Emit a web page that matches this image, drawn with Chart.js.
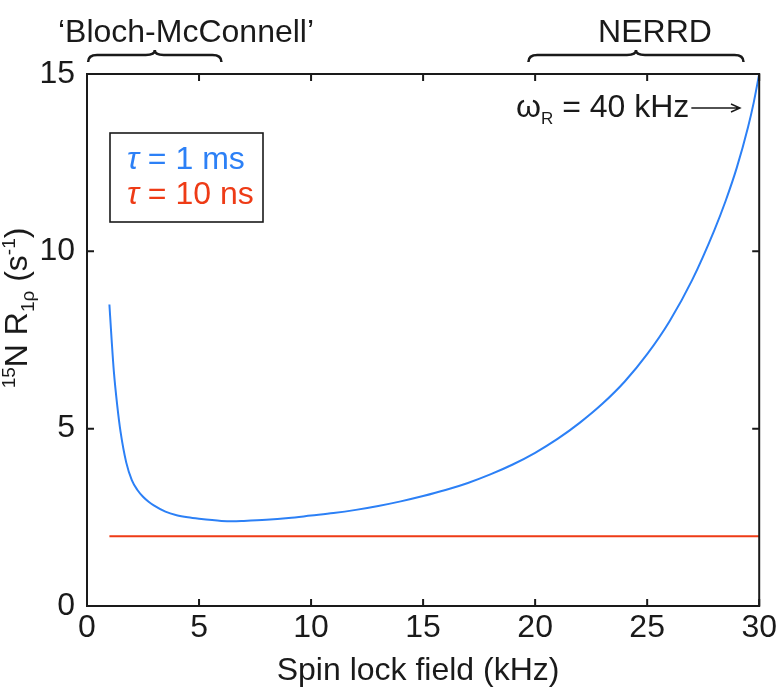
<!DOCTYPE html>
<html>
<head>
<meta charset="utf-8">
<script src="https://cdn.jsdelivr.net/npm/chart.js@4/dist/chart.umd.min.js"></script>
<style>
  html, body { margin: 0; padding: 0; background: #fff; }
  #wrap { width: 780px; height: 695px; }
</style>
</head>
<body>
<div id="wrap"><canvas id="r1rhoChart" width="780" height="695"></canvas></div>
<script>
// spin lock field (kHz) and R1rho (s^-1)
var fieldKHz = [1, 1.1, 1.2, 1.35, 1.5, 1.75, 2, 2.25, 2.5, 2.75, 3, 3.5, 4, 4.5, 5, 6, 6.5, 7, 8, 9, 10,
                11, 12, 13, 14, 15, 16, 17, 18, 19, 20, 21, 22, 23, 24, 25, 26, 27, 28, 28.5, 29, 29.5, 29.75, 30];
var r1rhoSlow = [8.5, 7.5, 6.6, 5.65, 4.9, 4.05, 3.55, 3.27, 3.08, 2.94, 2.83, 2.66, 2.56, 2.50, 2.46, 2.40, 2.39, 2.40, 2.43, 2.48, 2.55,
                 2.62, 2.71, 2.82, 2.95, 3.10, 3.27, 3.47, 3.71, 3.99, 4.32, 4.71, 5.17, 5.70, 6.33, 7.10, 8.03, 9.18, 10.6, 11.42, 12.36, 13.5, 14.18, 15.0];
var fastField = [1, 30];
var r1rhoFast = [1.97, 1.97];

var xTicks = [0, 5, 10, 15, 20, 25, 30];
var yTicks = [0, 5, 10, 15];

var blue = '#2c80f6';
var red = '#ee3b16';
var ink = '#1a1a1a';
var fontFamily = '"Liberation Sans", Arial, Helvetica, sans-serif';

function toPoints(xs, ys) {
    var pts = [];
    for (var i = 0; i < xs.length; i++) pts.push({ x: xs[i], y: ys[i] });
    return pts;
}

function drawBrace(ctx, x0, x1, yb, ym, yt) {
    var xm = (x0 + x1) / 2, r = 9;
    ctx.beginPath();
    ctx.moveTo(x0, yb);
    ctx.quadraticCurveTo(x0, ym, x0 + r, ym);
    ctx.lineTo(xm - r, ym);
    ctx.quadraticCurveTo(xm, ym, xm, yt);
    ctx.quadraticCurveTo(xm, ym, xm + r, ym);
    ctx.lineTo(x1 - r, ym);
    ctx.quadraticCurveTo(x1, ym, x1, yb);
    ctx.stroke();
}

// draws parts [text, size, dy, italic] one after another
function drawParts(ctx, parts, x, y, color) {
    ctx.fillStyle = color;
    ctx.textBaseline = 'alphabetic';
    ctx.textAlign = 'left';
    parts.forEach(function(p) {
        ctx.font = (p[3] ? 'italic ' : '') + p[1] + 'px ' + fontFamily;
        ctx.fillText(p[0], x, y + p[2]);
        x += ctx.measureText(p[0]).width;
    });
    return x;
}

function partsWidth(ctx, parts) {
    var w = 0;
    parts.forEach(function(p) {
        ctx.font = (p[3] ? 'italic ' : '') + p[1] + 'px ' + fontFamily;
        w += ctx.measureText(p[0]).width;
    });
    return w;
}

var framePlugin = {
    id: 'frame',
    afterDraw: function(chart) {
        var ctx = chart.ctx;
        var a = chart.chartArea;
        var xs = chart.scales.x, ys = chart.scales.y;
        ctx.save();

        // box with inward ticks on all four sides
        ctx.strokeStyle = ink;
        ctx.lineWidth = 2;
        ctx.strokeRect(a.left, a.top, a.right - a.left, a.bottom - a.top);
        ctx.beginPath();
        xTicks.forEach(function(v) {
            var px = xs.getPixelForValue(v);
            ctx.moveTo(px, a.bottom); ctx.lineTo(px, a.bottom - 7);
            ctx.moveTo(px, a.top); ctx.lineTo(px, a.top + 7);
        });
        yTicks.forEach(function(v) {
            var py = ys.getPixelForValue(v);
            ctx.moveTo(a.left, py); ctx.lineTo(a.left + 7, py);
            ctx.moveTo(a.right, py); ctx.lineTo(a.right - 7, py);
        });
        ctx.stroke();

        // x axis title
        ctx.fillStyle = ink;
        ctx.font = '32px ' + fontFamily;
        ctx.textAlign = 'center';
        ctx.textBaseline = 'alphabetic';
        ctx.fillText('Spin lock field (kHz)', (a.left + a.right) / 2 - 5, 680);

        // y axis title, rotated
        var yParts = [['15', 19, -12], ['N R', 32, 0], ['1\u03c1', 19, 7], [' (s', 32, 0], ['-1', 19, -12], [')', 32, 0]];
        ctx.save();
        ctx.translate(27, 308);
        ctx.rotate(-Math.PI / 2);
        drawParts(ctx, yParts, -partsWidth(ctx, yParts) / 2, 0, ink);
        ctx.restore();

        // regime braces and labels above the plot
        ctx.lineWidth = 2.5;
        ctx.strokeStyle = ink;
        drawBrace(ctx, xs.getPixelForValue(0.05), xs.getPixelForValue(6), 62, 55, 50);
        drawBrace(ctx, xs.getPixelForValue(19.7), xs.getPixelForValue(29.3), 62, 55, 50);
        ctx.fillStyle = ink;
        ctx.font = '32px ' + fontFamily;
        ctx.textAlign = 'center';
        ctx.fillText('\u2018Bloch-McConnell\u2019', 186, 42);
        ctx.fillText('NERRD', 655, 42);

        // spinning rate note with arrow
        var wParts = [['\u03c9', 32, 0], ['R', 17, 7], [' = 40 kHz', 32, 0]];
        var endX = drawParts(ctx, wParts, 516, 117, ink);
        ctx.strokeStyle = ink;
        ctx.lineWidth = 1.4;
        ctx.beginPath();
        ctx.moveTo(endX + 2, 108); ctx.lineTo(740, 108);
        ctx.moveTo(731, 104); ctx.lineTo(740, 108); ctx.lineTo(731, 112);
        ctx.stroke();

        // legend box
        ctx.lineWidth = 1.6;
        ctx.strokeRect(110, 133, 153, 89);
        drawParts(ctx, [['\u03c4', 32, 0, true], [' = 1 ms', 32, 0]], 127, 169, blue);
        drawParts(ctx, [['\u03c4', 32, 0, true], [' = 10 ns', 32, 0]], 127, 204, red);

        ctx.restore();
    }
};

var ctx = document.getElementById('r1rhoChart').getContext('2d');
var r1rhoChart = new Chart(ctx, {
    type: 'line',
    data: {
        datasets: [{
            label: '\u03c4 = 1 ms',
            data: toPoints(fieldKHz, r1rhoSlow),
            borderColor: blue,
            borderWidth: 2,
            pointRadius: 0,
            cubicInterpolationMode: 'monotone',
            fill: false
        }, {
            label: '\u03c4 = 10 ns',
            data: toPoints(fastField, r1rhoFast),
            borderColor: red,
            borderWidth: 2,
            pointRadius: 0,
            fill: false
        }]
    },
    options: {
        responsive: false,
        maintainAspectRatio: false,
        animation: false,
        layout: { padding: { top: 74, right: 20, left: 0, bottom: 0 } },
        plugins: {
            legend: { display: false },
            tooltip: { enabled: false }
        },
        scales: {
            x: {
                type: 'linear',
                min: 0,
                max: 30,
                border: { display: false },
                grid: { display: false, drawTicks: false },
                ticks: {
                    stepSize: 5,
                    padding: 3,
                    maxRotation: 0,
                    color: ink,
                    font: { family: fontFamily, size: 32 }
                },
                afterFit: function(scale) { scale.height = 89; }
            },
            y: {
                type: 'linear',
                min: 0,
                max: 15,
                border: { display: false },
                grid: { display: false, drawTicks: false },
                ticks: {
                    stepSize: 5,
                    padding: 12,
                    color: ink,
                    font: { family: fontFamily, size: 32 }
                },
                afterFit: function(scale) { scale.width = 87; }
            }
        }
    },
    plugins: [framePlugin]
});
</script>
</body>
</html>
